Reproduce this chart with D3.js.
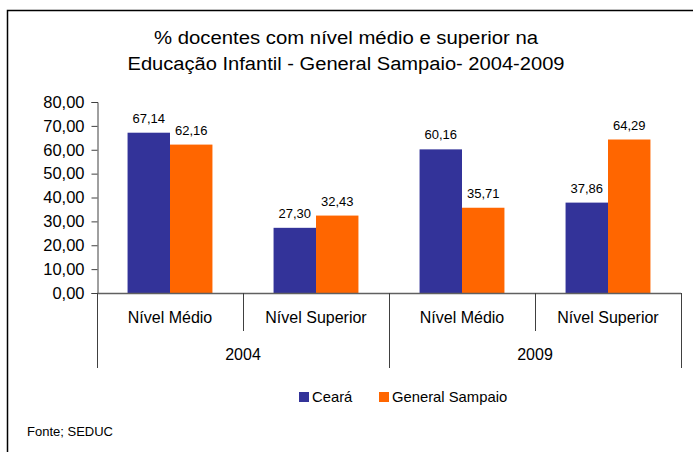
<!DOCTYPE html>
<html>
<head>
<meta charset="utf-8">
<script src="https://cdn.jsdelivr.net/npm/d3@7"></script>
<style>
  body { margin: 0; background: #fff; }
  text { font-family: "Liberation Sans", Arial, sans-serif; fill: #000; }
</style>
</head>
<body>
<div id="chart"></div>
<script>
// data
var years = ["2004", "2009"];
var levels = ["Nível Médio", "Nível Superior"];
var series = ["Ceará", "General Sampaio"];
var ceara = [67.14, 27.30, 60.16, 37.86];
var generalSampaio = [62.16, 32.43, 35.71, 64.29];
var yTicks = [0, 10, 20, 30, 40, 50, 60, 70, 80];
var colors = ["#333399", "#FF6600"];

var W = 694, H = 452;

var svg = d3.select("#chart").append("svg")
  .attr("width", W)
  .attr("height", H);

// outer frame (only left and top edges show)
svg.append("path")
  .attr("d", "M7.5," + H + "V10.5H693")
  .attr("fill", "none")
  .attr("stroke", "#000")
  .attr("stroke-width", 1.5);

// title
var titleLines = [
  {t: "% docentes com nível médio e superior na", y: 44, len: 384},
  {t: "Educação Infantil - General Sampaio- 2004-2009", y: 70, len: 437}
];
svg.selectAll(".title").data(titleLines).enter().append("text")
  .attr("class", "title")
  .attr("x", 346)
  .attr("y", d => d.y)
  .attr("text-anchor", "middle")
  .attr("font-size", 18)
  .attr("textLength", d => d.len)
  .attr("lengthAdjust", "spacingAndGlyphs")
  .text(d => d.t);

// categories: year x level
var cats = [];
years.forEach(y => levels.forEach(l => cats.push({year: y, level: l, key: y + "|" + l})));
cats.forEach((c, i) => { c.values = [ceara[i], generalSampaio[i]]; });

var x0 = d3.scaleBand()
  .domain(cats.map(c => c.key))
  .range([97, 681]);

var x1 = d3.scaleBand()
  .domain(series)
  .range([0, x0.bandwidth()])
  .paddingOuter(0.72);

var y = d3.scaleLinear()
  .domain([0, 80])
  .range([293, 102]);

var locale = d3.formatLocale({decimal: ",", thousands: ".", grouping: [3], currency: ["R$", ""]});
var fmt = locale.format(".2f");

// y axis
var yAxis = svg.append("g")
  .attr("transform", "translate(97.5,0)")
  .call(d3.axisLeft(y).tickValues(yTicks).tickFormat(fmt).tickSize(6).tickPadding(7));
yAxis.selectAll("text")
  .attr("font-size", 16.5)
  .attr("fill", "#000");
yAxis.selectAll("line, path").attr("stroke", "#404040");

// bars
var groups = svg.selectAll(".grp").data(cats).enter().append("g")
  .attr("class", "grp")
  .attr("transform", d => "translate(" + x0(d.key) + ",0)");

groups.selectAll("rect")
  .data(d => d.values.map((v, i) => ({s: series[i], v: v, i: i})))
  .enter().append("rect")
  .attr("x", d => x1(d.s))
  .attr("y", d => y(d.v))
  .attr("width", x1.bandwidth())
  .attr("height", d => y(0) - y(d.v))
  .attr("fill", d => colors[d.i]);

groups.selectAll(".lbl")
  .data(d => d.values.map((v, i) => ({s: series[i], v: v})))
  .enter().append("text")
  .attr("class", "lbl")
  .attr("x", d => x1(d.s) + x1.bandwidth() / 2)
  .attr("y", d => y(d.v) - 10)
  .attr("text-anchor", "middle")
  .attr("font-size", 13)
  .text(d => fmt(d.v));

// zero line
svg.append("line")
  .attr("x1", 97).attr("x2", 681)
  .attr("y1", y(0) + 0.5).attr("y2", y(0) + 0.5)
  .attr("stroke", "#606060")
  .attr("stroke-width", 1.5);

// category axis: level dividers and year dividers
var bounds = x0.domain().map(k => x0(k)).concat([x0.range()[1]]);
svg.selectAll(".div").data(bounds).enter().append("line")
  .attr("class", "div")
  .attr("x1", d => Math.round(d) + 0.5)
  .attr("x2", d => Math.round(d) + 0.5)
  .attr("y1", y(0))
  .attr("y2", (d, i) => i % 2 === 0 ? 368 : 331)
  .attr("stroke", "#404040");

svg.selectAll(".lvl").data(cats).enter().append("text")
  .attr("class", "lvl")
  .attr("x", d => x0(d.key) + x0.bandwidth() / 2)
  .attr("y", 323)
  .attr("text-anchor", "middle")
  .attr("font-size", 16)
  .text(d => d.level);

svg.selectAll(".yr").data(years).enter().append("text")
  .attr("class", "yr")
  .attr("x", (d, i) => x0(cats[i * 2].key) + x0.bandwidth())
  .attr("y", 360)
  .attr("text-anchor", "middle")
  .attr("font-size", 16)
  .text(d => d);

// legend
var legendX = [299, 379];
var legend = svg.selectAll(".leg").data(series).enter().append("g")
  .attr("class", "leg")
  .attr("transform", (d, i) => "translate(" + legendX[i] + ",392)");
legend.append("rect")
  .attr("width", 10).attr("height", 10)
  .attr("fill", (d, i) => colors[i]);
legend.append("text")
  .attr("x", 13)
  .attr("y", 9.5)
  .attr("font-size", 14.8)
  .text(d => d);

// source
svg.append("text")
  .attr("x", 27)
  .attr("y", 436)
  .attr("font-size", 13)
  .text("Fonte; SEDUC");
</script>
</body>
</html>
